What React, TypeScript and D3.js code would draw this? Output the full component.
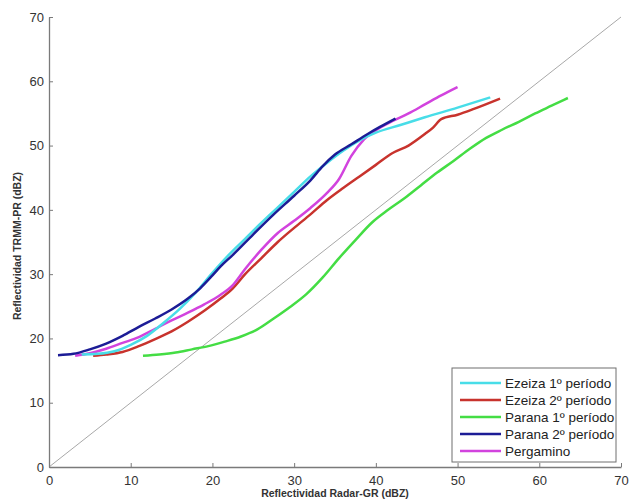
import * as d3 from "d3";
import { useEffect, useRef } from "react";

// values, [radar GR dBZ, TRMM PR dBZ]
const ezeiza1X = [4, 6, 8, 10, 12, 14, 16, 18, 20, 22, 24, 26, 28, 30, 32, 34, 36, 38, 40, 43, 46, 50, 54];
const ezeiza1Y = [17.5, 17.6, 18.0, 19.0, 20.4, 22.4, 24.6, 27.2, 30.2, 33.0, 35.5, 38.0, 40.4, 42.8, 45.2, 47.3, 49.2, 50.8, 52.0, 53.2, 54.4, 55.9, 57.5];

const ezeiza2X = [5.4, 7, 9, 11, 13, 15, 17, 19, 21, 22.5, 24, 26, 28, 30, 32, 34, 36, 38, 40, 42, 44, 46, 47, 48, 50, 52, 55.2];
const ezeiza2Y = [17.3, 17.5, 17.9, 18.8, 19.9, 21.1, 22.6, 24.3, 26.2, 27.8, 30.0, 32.5, 35.0, 37.2, 39.3, 41.5, 43.4, 45.2, 47.0, 48.8, 50.0, 51.8, 52.8, 54.1, 54.8, 55.7, 57.3];

const parana1X = [11.5, 13.5, 15.5, 17.5, 19.5, 21.5, 23.5, 25.5, 27.5, 29.5, 31.5, 33.5, 35.5, 37.5, 39.5, 41.5, 43.5, 45.5, 47.5, 49.5, 51.5, 53.5, 55.5, 57.5, 59.5, 61.5, 63.5];
const parana1Y = [17.3, 17.5, 17.8, 18.3, 18.8, 19.5, 20.3, 21.4, 23.1, 24.9, 26.9, 29.5, 32.5, 35.3, 38.0, 40.0, 41.8, 43.8, 45.8, 47.6, 49.5, 51.2, 52.5, 53.7, 55.0, 56.2, 57.4];

const parana2X = [1.1, 3, 5, 7, 9, 11, 13, 15, 17, 18.5, 20, 21, 22.5, 25, 27.5, 30, 32, 33.5, 35, 37, 39, 40.5, 42.4];
const parana2Y = [17.4, 17.6, 18.3, 19.2, 20.4, 21.8, 23.1, 24.5, 26.2, 27.8, 29.8, 31.2, 33.0, 36.2, 39.3, 42.2, 44.6, 46.8, 48.6, 50.2, 51.8, 52.9, 54.2];

const pergaminoX = [3.2, 5, 7, 9, 11, 13, 15, 17, 19, 21, 22.5, 24, 26, 28, 30, 32, 34, 35.5, 37, 38.5, 40, 42, 44, 46, 48, 50];
const pergaminoY = [17.3, 17.7, 18.4, 19.3, 20.2, 21.5, 22.8, 24.0, 25.3, 26.8, 28.3, 30.8, 33.8, 36.4, 38.3, 40.3, 42.6, 44.8, 48.4, 50.9, 52.4, 53.8, 55.0, 56.4, 57.8, 59.1];

const seriesNames = ["Ezeiza 1º período", "Ezeiza 2º período", "Parana 1º período", "Parana 2º período", "Pergamino"];
const seriesColors = ["#48dde8", "#c8332d", "#44dd44", "#1c1c96", "#d243de"];
const tickValues = [0, 10, 20, 30, 40, 50, 60, 70];

function App() {
    const ref = useRef<HTMLDivElement>(null);

    useEffect(() => {
        d3.select(ref.current).selectAll("*").remove();

        const width = 633;
        const height = 500;

        const svg = d3.select(ref.current)
            .append("svg")
            .attr("width", width)
            .attr("height", height)
            .style("position", "absolute")
            .style("left", 0)
            .style("top", 0)
            .style("font-family", "Arial, 'Liberation Sans', sans-serif");

        const x = d3.scaleLinear().domain([0, 70]).range([49, 621]);
        const y = d3.scaleLinear().domain([0, 70]).range([467, 17]);

        // 1:1 reference line
        svg.append("line")
            .attr("x1", x(0)).attr("y1", y(0))
            .attr("x2", x(70)).attr("y2", y(70))
            .attr("stroke", "#a8a8a8")
            .attr("stroke-width", 1);

        const series = [
            [ezeiza1X, ezeiza1Y],
            [ezeiza2X, ezeiza2Y],
            [parana1X, parana1Y],
            [parana2X, parana2Y],
            [pergaminoX, pergaminoY]
        ].map(([xs, ys], i) => ({
            name: seriesNames[i],
            color: seriesColors[i],
            points: xs.map((v, j) => [v, ys[j]] as [number, number])
        }));

        const line = d3.line<[number, number]>()
            .x(d => x(d[0]))
            .y(d => y(d[1]))
            .curve(d3.curveMonotoneX);

        // draw order so that blue sits over cyan like the original
        [2, 1, 4, 0, 3].forEach(i => {
            svg.append("path")
                .attr("d", line(series[i].points))
                .attr("fill", "none")
                .attr("stroke", series[i].color)
                .attr("stroke-width", 2.5)
                .attr("stroke-linejoin", "round");
        });

        const xAxis = svg.append("g")
            .attr("transform", `translate(0,${y(0)})`)
            .call(d3.axisBottom(x).tickValues(tickValues).tickSizeInner(-4).tickSizeOuter(0).tickPadding(9));

        const yAxis = svg.append("g")
            .attr("transform", `translate(${x(0)},0)`)
            .call(d3.axisLeft(y).tickValues(tickValues).tickSizeInner(-4).tickSizeOuter(0).tickPadding(5));

        [xAxis, yAxis].forEach(g => {
            g.select(".domain").attr("stroke", "#7a7a7a").attr("stroke-width", 1.3);
            g.selectAll(".tick line").attr("stroke", "#7a7a7a");
            g.selectAll(".tick text")
                .attr("fill", "#333")
                .style("font-size", "13px")
                .style("font-family", "Arial, 'Liberation Sans', sans-serif");
        });

        svg.append("text")
            .attr("x", 335)
            .attr("y", 497)
            .attr("text-anchor", "middle")
            .attr("font-size", "10.5px")
            .attr("font-weight", "bold")
            .attr("fill", "#333")
            .text("Reflectividad Radar-GR (dBZ)");

        svg.append("text")
            .attr("transform", "translate(21,246) rotate(-90)")
            .attr("text-anchor", "middle")
            .attr("font-size", "10.5px")
            .attr("font-weight", "bold")
            .attr("fill", "#333")
            .text("Reflectividad TRMM-PR (dBZ)");

        // legend
        const legend = svg.append("g").attr("transform", "translate(452,368)");
        legend.append("rect")
            .attr("width", 164)
            .attr("height", 94)
            .attr("fill", "#fff")
            .attr("stroke", "#6f6f6f")
            .attr("stroke-width", 1);

        series.forEach((s, i) => {
            const row = legend.append("g").attr("transform", `translate(0,${15 + i * 17})`);
            row.append("line")
                .attr("x1", 8).attr("x2", 49)
                .attr("stroke", s.color)
                .attr("stroke-width", 2.5);
            row.append("text")
                .attr("x", 53)
                .attr("dy", "0.35em")
                .attr("font-size", "13.5px")
                .attr("fill", "#222")
                .text(s.name);
        });
    }, []);

    return <div ref={ref}></div>;
}

export default App;
